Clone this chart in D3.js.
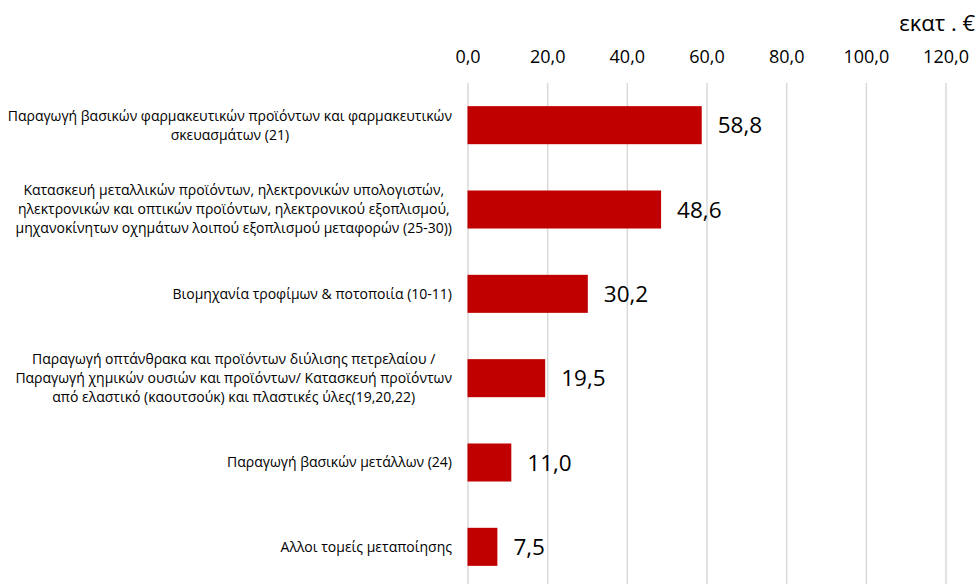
<!DOCTYPE html>
<html>
<head>
<meta charset="utf-8">
<script src="https://cdn.jsdelivr.net/npm/d3@7.9.0/dist/d3.min.js"></script>
<style>
  body { margin: 0; background: #fff; }
  svg { display: block; font-family: "Open Sans", sans-serif; }
</style>
</head>
<body>
<svg id="chart" width="980" height="584"></svg>
<script>
// category labels, split into the lines shown in the chart
const categories = [
  ["Παραγωγή βασικών φαρμακευτικών προϊόντων και φαρμακευτικών", "σκευασμάτων (21)"],
  ["Κατασκευή μεταλλικών προϊόντων, ηλεκτρονικών υπολογιστών,", "ηλεκτρονικών και οπτικών προϊόντων, ηλεκτρονικού εξοπλισμού,", "μηχανοκίνητων οχημάτων λοιπού εξοπλισμού μεταφορών (25-30))"],
  ["Βιομηχανία τροφίμων & ποτοποιία (10-11)"],
  ["Παραγωγή οπτάνθρακα και προϊόντων διύλισης πετρελαίου /", "Παραγωγή χημικών ουσιών και προϊόντων/ Κατασκευή προϊόντων", "από ελαστικό (καουτσούκ) και πλαστικές ύλες(19,20,22)"],
  ["Παραγωγή βασικών μετάλλων (24)"],
  ["Αλλοι τομείς μεταποίησης"]
];
const values = [58.8, 48.6, 30.2, 19.5, 11.0, 7.5];
const tickValues = [0, 20, 40, 60, 80, 100, 120];
const unitLabel = "εκατ . €";

const locale = d3.formatLocale({ decimal: ",", thousands: ".", grouping: [3], currency: ["", "€"] });
const fmt = locale.format(".1f");

const svg = d3.select('#chart');
const data = values.map((v, i) => ({ value: v, lines: categories[i], key: i }));

let x = d3.scaleLinear().domain([0, 120]).range([467.5, 945.5]);
let y = d3.scaleBand().domain(data.map(d => d.key)).range([83, 589]).paddingInner(0.549).paddingOuter(0.2745);

// gridlines
svg.append('g')
    .attr('transform', 'translate(0,83)')
    .call(d3.axisBottom(x).tickValues(tickValues).tickSize(510).tickFormat(''))
    .call(g => g.select('.domain').remove())
    .call(g => g.selectAll('line').attr('stroke', '#d9d9d9').attr('stroke-width', 1.5));

// tick labels on top
svg.append('g')
    .attr('transform', 'translate(0,66)')
    .call(d3.axisTop(x).tickValues(tickValues).tickSize(0).tickFormat(fmt))
    .call(g => g.select('.domain').remove())
    .call(g => g.selectAll('text')
        .attr('font-family', '"Open Sans", sans-serif')
        .attr('font-size', 18)
        .attr('fill', '#000'));

svg.append('text')
    .attr('x', 975)
    .attr('y', 31)
    .attr('text-anchor', 'end')
    .attr('font-size', 22)
    .attr('fill', '#000')
    .text(unitLabel);

// bars
svg.selectAll('rect.bar')
    .data(data)
    .join('rect')
    .attr('class', 'bar')
    .attr('x', x(0))
    .attr('y', d => y(d.key))
    .attr('width', d => x(d.value) - x(0))
    .attr('height', y.bandwidth())
    .attr('fill', '#c00000');

// value labels
svg.selectAll('text.val')
    .data(data)
    .join('text')
    .attr('class', 'val')
    .attr('x', d => x(d.value) + 16)
    .attr('y', d => y(d.key) + y.bandwidth() / 2)
    .attr('dy', '0.36em')
    .attr('font-size', 22.5)
    .attr('fill', '#000')
    .text(d => fmt(d.value));

// category labels: block right-aligned, lines centred in block
const labelRight = 452;
const lineH = 19;
data.forEach(d => {
    let g = svg.append('g');
    let texts = d.lines.map(line => g.append('text')
        .attr('font-size', 14)
        .attr('fill', '#000')
        .attr('text-anchor', 'middle')
        .text(line));
    let maxW = d3.max(texts, t => t.node().getComputedTextLength());
    let cy = y(d.key) + y.bandwidth() / 2;
    let top = cy - (d.lines.length - 1) * lineH / 2;
    texts.forEach((t, i) => {
        t.attr('x', labelRight - maxW / 2)
         .attr('y', top + i * lineH)
         .attr('dy', '0.35em');
    });
});
</script>
</body>
</html>
